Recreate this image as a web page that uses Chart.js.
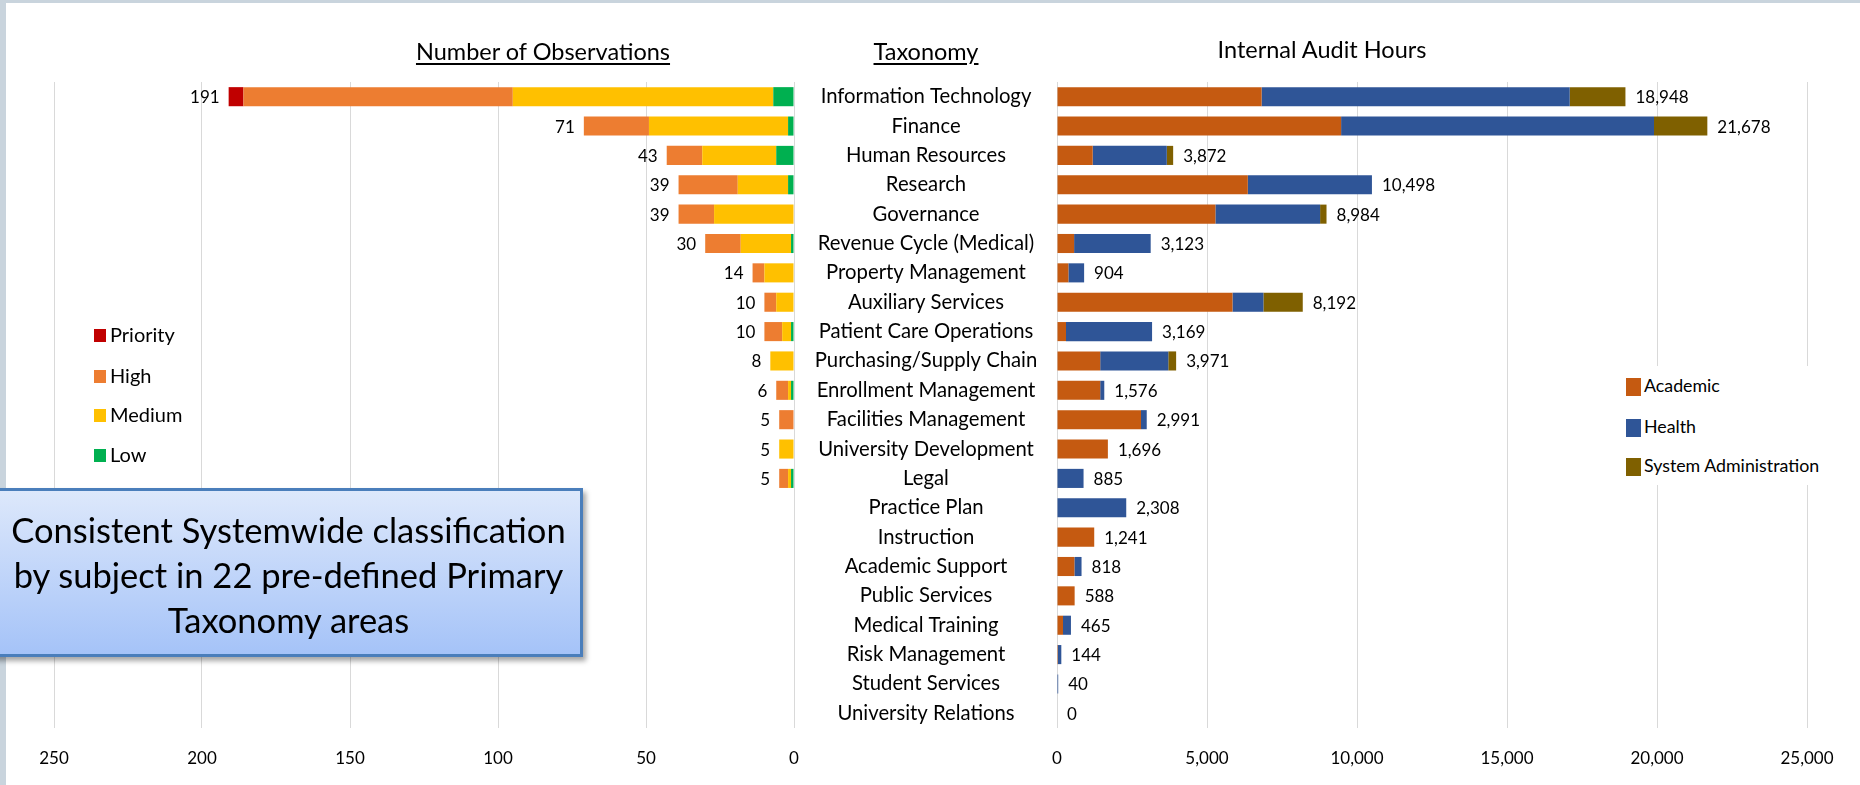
<!DOCTYPE html>
<html>
<head>
<meta charset="utf-8">
<script src="https://cdn.jsdelivr.net/npm/chart.js@4.4.1/dist/chart.umd.min.js"></script>
<style>
body{margin:0;background:#fff;font-family:Lato,sans-serif;color:#000;}
#page{position:relative;width:1860px;height:785px;overflow:hidden;background:#fff;}
.chartbox{position:absolute;top:0;height:785px;}
#boxObs{left:0;width:800px;}
#boxHours{left:794px;width:1066px;}
.stripTop{position:absolute;left:0;top:0;width:1860px;height:3px;background:#c9d4dd;z-index:5;}
.stripLeft{position:absolute;left:0;top:0;width:6px;height:785px;background:#c9d4dd;z-index:5;}
.title{position:absolute;font-size:23.5px;white-space:nowrap;transform:translateX(-50%);top:37px;}
.title.u{text-decoration:underline;text-underline-offset:3px;text-decoration-thickness:1.5px;}
.legend{position:absolute;white-space:nowrap;}
.legend .item{position:absolute;left:0;height:24px;line-height:24px;}
.legend .sw{display:inline-block;vertical-align:middle;margin-right:4px;position:relative;top:-1px;}
#legObs{left:94px;top:0;font-size:20px;}
#legObs .sw{width:12px;height:13px;}
#legHours{left:1626px;top:366px;width:206px;height:119px;background:#fff;font-size:17.8px;}
#legHours .sw{width:15px;height:18px;margin-right:3px;}
#callout{position:absolute;left:-10px;top:488px;width:587px;height:163px;border:3px solid #4a7ebb;
  background:linear-gradient(#dde8fb,#a5c3f8);box-shadow:3px 4px 5px rgba(0,0,0,0.35);z-index:6;
  display:flex;align-items:center;justify-content:center;text-align:center;font-size:34.5px;line-height:45px;white-space:nowrap;}
</style>
</head>
<body>
<div id="page">
  <div class="chartbox" id="boxObs"><canvas id="chartObs"></canvas></div>
  <div class="chartbox" id="boxHours"><canvas id="chartHours"></canvas></div>
  <div class="stripTop"></div>
  <div class="stripLeft"></div>
  <div class="title u" style="left:543px;">Number of Observations</div>
  <div class="title u" style="left:926px;">Taxonomy</div>
  <div class="title" style="left:1322px;top:35px;">Internal Audit Hours</div>
  <div class="legend" id="legObs"></div>
  <div class="legend" id="legHours"></div>
  <div id="callout"><div style="margin-left:4px;margin-top:4px;">Consistent Systemwide classification<br>by subject in 22 pre-defined Primary<br>Taxonomy areas</div></div>
</div>
<script>
var categories = ['Information Technology','Finance','Human Resources','Research','Governance',
  'Revenue Cycle (Medical)','Property Management','Auxiliary Services','Patient Care Operations',
  'Purchasing/Supply Chain','Enrollment Management','Facilities Management','University Development',
  'Legal','Practice Plan','Instruction','Academic Support','Public Services','Medical Training',
  'Risk Management','Student Services','University Relations'];

// number of observations by rating
var obsPriority = [5,0,0,0,0,0,0,0,0,0,0,0,0,0,0,0,0,0,0,0,0,0];
var obsHigh     = [91,22,12,20,12,12,4,4,6,0,4,5,0,3,0,0,0,0,0,0,0,0];
var obsMedium   = [88,47,25,17,27,17,10,6,3,8,1,0,5,1,0,0,0,0,0,0,0,0];
var obsLow      = [7,2,6,2,0,1,0,0,1,0,1,0,0,1,0,0,0,0,0,0,0,0];

// internal audit hours by campus type
var hrsAcademic = [6820,9470,1190,6360,5280,570,380,5850,300,1440,1440,2800,1696,0,0,1241,580,588,200,30,0,0];
var hrsHealth   = [10270,10430,2470,4138,3490,2553,524,1030,2869,2270,136,191,0,885,2308,0,238,0,265,114,40,0];
var hrsSysAdmin = [1858,1778,212,0,214,0,0,1312,0,261,0,0,0,0,0,0,0,0,0,0,0,0];

var obsTicks = [0,50,100,150,200,250];
var hrsTicks = [0,5000,10000,15000,20000,25000];

var FONT = 'Lato';
var CAT_CENTER = 926;   // centre of the taxonomy column on the page
var HRS_LEFT = 794;     // page x of the hours canvas
var AXIS_H = 57;        // height kept for the bottom tick labels

var totalLabels = {
  id: 'totalLabels',
  afterDatasetsDraw: function(chart, args, opts){
    var ctx = chart.ctx;
    var xs = chart.scales.x, ys = chart.scales.y;
    ctx.save();
    ctx.font = opts.size + 'px ' + FONT;
    ctx.fillStyle = '#000';
    ctx.textBaseline = 'middle';
    ctx.textAlign = opts.side == 'left' ? 'right' : 'left';
    for (var i = 0; i < chart.data.labels.length; i++){
      var total = 0;
      chart.data.datasets.forEach(function(ds){ total += ds.data[i]; });
      if (total == 0 && !opts.showZero) continue;
      var x = xs.getPixelForValue(total);
      x = opts.side == 'left' ? x - opts.gap : x + opts.gap;
      ctx.fillText(total.toLocaleString('en-US'), x, ys.getPixelForValue(i) + 1);
    }
    ctx.restore();
  }
};

function fixBottomAxis(axis){
  axis.height = AXIS_H;
  axis.paddingLeft = 0;
  axis.paddingRight = 0;
}

function makeLegend(id, names, colors, tops){
  var el = document.getElementById(id);
  for (var i = 0; i < names.length; i++){
    var d = document.createElement('div');
    d.className = 'item';
    d.style.top = tops[i] + 'px';
    d.innerHTML = '<span class="sw" style="background:' + colors[i] + '"></span>' + names[i];
    el.appendChild(d);
  }
}

function widest(labels, size){
  var c = document.createElement('canvas').getContext('2d');
  c.font = size + 'px ' + FONT;
  var w = 0;
  labels.forEach(function(l){ w = Math.max(w, c.measureText(l).width); });
  return w;
}

function init(){
  Chart.defaults.font.family = FONT;
  Chart.defaults.color = '#000';
  Chart.defaults.animation = false;

  var gridColor = '#d9d9d9';

  new Chart(document.getElementById('chartObs').getContext('2d'), {
    type: 'bar',
    data: {
      labels: categories,
      datasets: [
        {label: 'Low', data: obsLow, backgroundColor: '#00b050'},
        {label: 'Medium', data: obsMedium, backgroundColor: '#ffc000'},
        {label: 'High', data: obsHigh, backgroundColor: '#ed7d31'},
        {label: 'Priority', data: obsPriority, backgroundColor: '#c00000'}
      ]
    },
    options: {
      indexAxis: 'y',
      responsive: true,
      maintainAspectRatio: false,
      barPercentage: 0.65,
      categoryPercentage: 1,
      layout: {padding: {left: 54, right: 6, top: 82, bottom: 0}},
      plugins: {
        legend: {display: false},
        tooltip: {enabled: false},
        totalLabels: {side: 'left', gap: 9, size: 17, showZero: false}
      },
      scales: {
        x: {
          stacked: true, reverse: true, min: 0, max: 250,
          afterBuildTicks: function(axis){ axis.ticks = obsTicks.map(function(v){ return {value: v}; }); },
          afterFit: fixBottomAxis,
          grid: {color: gridColor, drawTicks: false},
          border: {display: false},
          ticks: {padding: 20, font: {size: 17}, color: '#000'}
        },
        y: {stacked: true, display: false}
      }
    },
    plugins: [totalLabels]
  });

  var catSize = 20.3;
  var catPad = (1057 - CAT_CENTER) - widest(categories, catSize) / 2;

  new Chart(document.getElementById('chartHours').getContext('2d'), {
    type: 'bar',
    data: {
      labels: categories,
      datasets: [
        {label: 'Academic', data: hrsAcademic, backgroundColor: '#c55a11'},
        {label: 'Health', data: hrsHealth, backgroundColor: '#2f5597'},
        {label: 'System Administration', data: hrsSysAdmin, backgroundColor: '#7f6000'}
      ]
    },
    options: {
      indexAxis: 'y',
      responsive: true,
      maintainAspectRatio: false,
      barPercentage: 0.65,
      categoryPercentage: 1,
      layout: {padding: {left: 0, right: 53, top: 82, bottom: 0}},
      plugins: {
        legend: {display: false},
        tooltip: {enabled: false},
        totalLabels: {side: 'right', gap: 10, size: 17, showZero: true}
      },
      scales: {
        x: {
          stacked: true, min: 0, max: 25000,
          afterBuildTicks: function(axis){ axis.ticks = hrsTicks.map(function(v){ return {value: v}; }); },
          afterFit: fixBottomAxis,
          grid: {color: gridColor, drawTicks: false},
          border: {display: false},
          ticks: {padding: 20, font: {size: 17}, color: '#000',
            callback: function(v){ return Number(v).toLocaleString('en-US'); }}
        },
        y: {
          stacked: true,
          grid: {display: false, drawTicks: false},
          border: {display: false},
          afterFit: function(axis){ axis.width = 1057 - HRS_LEFT; },
          ticks: {crossAlign: 'center', padding: catPad, font: {size: catSize}, color: '#000', autoSkip: false}
        }
      }
    },
    plugins: [totalLabels]
  });

  makeLegend('legObs', ['Priority','High','Medium','Low'], ['#c00000','#ed7d31','#ffc000','#00b050'], [322,363,402,442]);
  makeLegend('legHours', ['Academic','Health','System Administration'], ['#c55a11','#2f5597','#7f6000'], [7,48,87]);
}

init();
</script>
</body>
</html>
